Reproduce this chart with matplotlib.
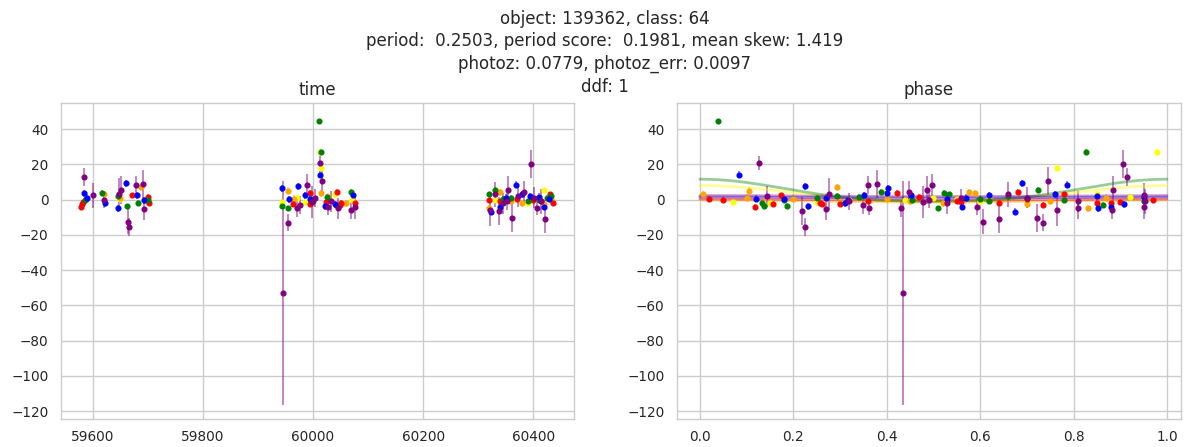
import numpy as np
import matplotlib
matplotlib.use('Agg')
import matplotlib.pyplot as plt
from matplotlib.colors import to_rgba

# passband data: mjd, phase, flux, flux error
u_mjd = [59584, 59620, 59647, 59664, 59666, 59678, 59691, 59693, 59945, 59954, 59970, 59976, 59989,
         59998, 60012, 60016, 60027, 60045, 60069, 60076, 60321, 60338, 60354, 60362, 60372, 60384,
         60396, 60407, 60421, 59600, 59652, 60003, 60033, 60330, 60346, 60415, 60352, 60402]
u_phase = [0.914, 0.490, 0.276, 0.606, 0.225, 0.360, 0.380, 0.270, 0.435, 0.734, 0.430, 0.350, 0.497,
           0.478, 0.127, 0.745, 0.593, 0.810, 0.882, 0.951, 0.764, 0.219, 0.884, 0.721, 0.143, 0.448,
           0.906, 0.362, 0.640, 0.951, 0.486, 0.560, 0.810, 0.660, 0.530, 0.952, 0.320, 0.700]
u_flux = [12.8, -0.5, 3.0, -12.6, -15.5, 8.2, 8.8, -5.5, -53.0, -13.0, -5.0, -3.0, 8.3,
          -1.5, 20.7, 10.5, -4.0, -5.0, -6.0, -4.0, -6.0, -6.5, 5.4, -10.5, 2.0, 4.3,
          20.0, -5.0, -11.0, 2.5, 5.4, 1.0, -1.0, 3.0, -2.0, -1.0, -1.0, 1.0]
u_err = [5, 4, 9, 7, 5, 5, 8, 6, 63.5, 5, 5, 5, 6,
         9, 4, 8, 5, 6, 5, 7, 9, 8, 8, 8, 6, 6,
         8, 4, 8, 7, 8, 5, 6, 7, 6, 7, 5, 6]

g_mjd = [59585, 59646, 59662, 59682, 59944, 59954, 60011, 60014, 60026, 60041, 60069,
         60320, 60330, 60345, 60360, 60390, 60410, 60425, 60432, 59617, 59700, 60000]
g_phase = [0.180, 0.293, 0.137, 0.132, 0.186, 0.510, 0.039, 0.826, 0.341, 0.863, 0.388,
           0.533, 0.724, 0.600, 0.700, 0.950, 0.455, 0.250, 0.660, 0.522, 0.780, 0.620]
g_flux = [-0.5, 2.3, -3.8, -2.0, -3.7, -5.0, 44.5, 27.0, 1.5, -3.0, 4.3,
          3.0, 5.4, 0.5, 1.0, -1.0, 0.0, 1.0, 2.0, 3.7, -0.5, -1.0]
g_err = [1.5] * 22

r_mjd = [59578, 59580, 59582, 59671, 59700, 59702, 59963, 59994, 59995, 60023, 60043,
         60049, 60051, 60076, 60430, 60320, 60340, 60370, 60400, 60415, 60436, 59587]
r_phase = [0.118, 0.156, 0.560, 0.173, 0.470, 0.257, 0.262, 0.422, 0.300, 0.900, 0.680,
           0.734, 0.640, 0.880, 0.780, 0.970, 0.550, 0.700, 0.050, 0.360, 0.850, 0.020]
r_flux = [-4.0, -2.3, -1.5, 2.5, 1.4, -2.0, -2.5, 3.7, -2.3, -1.5, 4.3,
          -3.0, -1.8, -2.2, 3.0, -0.5, -1.0, 0.5, 0.0, -1.0, -2.0, 0.5]
r_err = [1.5] * 22

i_mjd = [59620, 59650, 59687, 59954, 60014, 60028, 60320, 60340, 60360,
         60380, 60400, 60420, 60435, 59698, 59965, 60060, 60394]
i_phase = [0.006, 0.100, 0.293, 0.105, 0.590, 0.620, 0.830, 0.576, 0.450,
           0.300, 0.200, 0.700, 0.950, 0.750, 0.400, 0.520, 0.870]
i_flux = [3.0, 1.0, 7.0, 5.0, 3.7, 1.5, -5.0, 4.3, -1.0,
          -2.0, 0.5, -2.5, -1.0, -1.0, 0.5, -2.0, 1.0]
i_err = [2] * 17

z_mjd = [59943, 59970, 59985, 60013, 60014, 60040, 60419, 60330, 60350, 60390, 60410, 59650, 59700, 60070]
z_phase = [0.071, 0.500, 0.250, 0.979, 0.765, 0.850, 0.400, 0.320, 0.600, 0.150, 0.920, 0.550, 0.700, 0.440]
z_flux = [-1.5, 1.0, -1.5, 27.0, 18.0, 3.0, 5.4, 0.0, -1.0, -2.0, 1.5, 0.5, -1.0, 0.0]
z_err = [2] * 14

y_mjd = [59583, 59590, 59622, 59646, 59660, 59680, 59692, 59943, 59956, 59973, 59985, 59995, 60012,
         60022, 60040, 60073, 60324, 60340, 60369, 60380, 60395, 60410, 60420, 60428, 60350]
y_phase = [0.400, 0.570, 0.310, 0.852, 0.689, 0.452, 0.317, 0.403, 0.180, 0.225, 0.351, 0.530, 0.083,
           0.232, 0.908, 0.620, 0.675, 0.561, 0.785, 0.760, 0.850, 0.950, 0.880, 0.120, 0.270]
y_flux = [3.7, 1.0, -2.0, -5.0, 9.3, 2.5, -0.3, 6.5, 0.3, 7.6, 2.5, 0.6, 14.0,
          -3.7, -2.6, 2.5, -7.0, -4.0, 8.5, 3.0, 2.0, 1.5, -4.0, 0.5, 1.0]
y_err = [2] * 25

# fitted periodic model per band: mean, first and second harmonic amplitude
band_colors = ['yellow', 'orange', 'red', 'green', 'blue', 'purple']
curve_mean = [3.0, -0.8, 0.0, 4.3, 1.2, 2.0]
curve_a1 = [4.5, 0.6, 0.4, 6.3, 0.3, 0.3]
curve_a2 = [0.5, 0.0, 0.0, 1.0, 0.0, 0.0]

bands = [(z_mjd, z_phase, z_flux, z_err), (i_mjd, i_phase, i_flux, i_err),
         (r_mjd, r_phase, r_flux, r_err), (g_mjd, g_phase, g_flux, g_err),
         (y_mjd, y_phase, y_flux, y_err), (u_mjd, u_phase, u_flux, u_err)]

plt.style.use('seaborn-v0_8-whitegrid')
plt.rcParams['font.family'] = ['DejaVu Sans']
plt.rcParams['axes.edgecolor'] = '.8'
plt.rcParams['grid.color'] = '.8'
plt.rcParams['text.color'] = '.15'
plt.rcParams['xtick.color'] = '.15'
plt.rcParams['ytick.color'] = '.15'

fig = plt.figure(figsize=(11.88, 4.47), dpi=100)
ax1 = fig.add_axes([0.0513, 0.0626, 0.4318, 0.7069])
ax2 = fig.add_axes([0.5699, 0.0626, 0.4242, 0.7069])

for (mjd, ph, fl, er), c in zip(bands, band_colors):
    ec = to_rgba(c, 0.6)
    ax1.errorbar(mjd, fl, yerr=er, fmt='o', color=c, ecolor=ec, ms=3.4, elinewidth=1.1)
    ax2.errorbar(ph, fl, yerr=er, fmt='o', color=c, ecolor=ec, ms=3.4, elinewidth=1.1)

grid_phase = np.linspace(0, 1, 200)
for c, m, a1, a2 in zip(band_colors, curve_mean, curve_a1, curve_a2):
    model = m + a1 * np.cos(2 * np.pi * grid_phase) + a2 * np.cos(4 * np.pi * grid_phase)
    ax2.plot(grid_phase, model, color=c, alpha=0.4, lw=2)

for ax in (ax1, ax2):
    ax.set_ylim(-124.5, 54.8)
    ax.set_yticks(np.arange(-120, 41, 20))
    ax.tick_params(labelsize=9.8, length=0)
    ax.tick_params(axis='y', pad=9)
    ax.tick_params(axis='x', pad=8)
    ax.grid(True, lw=1.0)

ax1.set_xlim(59542, 60474)
ax1.set_xticks(np.arange(59600, 60401, 200))
ax2.set_xlim(-0.049, 1.03)
ax2.set_xticks(np.arange(0, 1.01, 0.2))

ax1.set_title('time', fontsize=12)
ax2.set_title('phase', fontsize=12)

fig.suptitle('object: 139362, class: 64\n'
             'period:  0.2503, period score:  0.1981, mean skew: 1.419\n'
             'photoz: 0.0779, photoz_err: 0.0097\n'
             'ddf: 1', x=0.509, y=0.978, va='top', fontsize=12, linespacing=1.33)

fig.savefig('out.png', dpi=100)
